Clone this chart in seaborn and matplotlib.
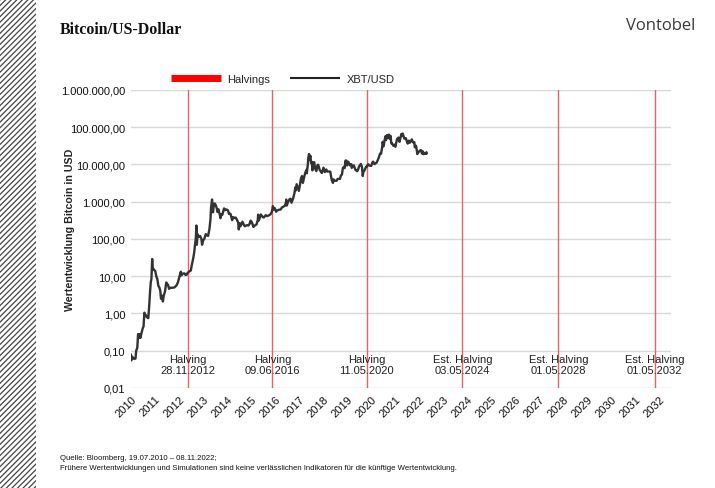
import numpy as np
import pandas as pd
import matplotlib
matplotlib.use("Agg")
import matplotlib.pyplot as plt
import matplotlib.transforms as mtransforms
from matplotlib.lines import Line2D
from matplotlib.patches import Rectangle
from matplotlib.ticker import FuncFormatter
import seaborn as sns

# XBT/USD (approximate)
dates = [
    "2010-07-19", "2010-07-25", "2010-08-05", "2010-08-20", "2010-09-10", "2010-09-28",
    "2010-10-08", "2010-10-25", "2010-11-06", "2010-11-15", "2010-11-28", "2010-12-10",
    "2010-12-28", "2011-01-15", "2011-01-28", "2011-02-10", "2011-02-20", "2011-03-05",
    "2011-03-25", "2011-04-10", "2011-04-25", "2011-05-05", "2011-05-18", "2011-05-28",
    "2011-06-08", "2011-06-15", "2011-06-25", "2011-07-10", "2011-07-25", "2011-08-10",
    "2011-08-25", "2011-09-10", "2011-09-25", "2011-10-10", "2011-10-20", "2011-11-05",
    "2011-11-18", "2011-12-01", "2011-12-20", "2012-01-08", "2012-01-20", "2012-02-05",
    "2012-02-20", "2012-03-10", "2012-04-10", "2012-05-10", "2012-06-10", "2012-07-01",
    "2012-07-20", "2012-08-16", "2012-08-25", "2012-09-15", "2012-10-10", "2012-10-28",
    "2012-11-15", "2012-11-28", "2012-12-20", "2013-01-15", "2013-01-31", "2013-02-20",
    "2013-03-08", "2013-03-20", "2013-04-01", "2013-04-10", "2013-04-16", "2013-04-28",
    "2013-05-15", "2013-06-05", "2013-06-25", "2013-07-05", "2013-07-20", "2013-08-10",
    "2013-08-30", "2013-09-20", "2013-10-05", "2013-10-25", "2013-11-10", "2013-11-19",
    "2013-12-04", "2013-12-18", "2013-12-28", "2014-01-10", "2014-01-25", "2014-02-10",
    "2014-02-25", "2014-03-10", "2014-03-31", "2014-04-10", "2014-04-25", "2014-05-10",
    "2014-06-03", "2014-06-20", "2014-07-10", "2014-08-01", "2014-08-18", "2014-09-10",
    "2014-10-05", "2014-10-20", "2014-11-10", "2014-11-28", "2014-12-20", "2015-01-05",
    "2015-01-14", "2015-01-27", "2015-02-10", "2015-03-10", "2015-03-30", "2015-04-15",
    "2015-05-20", "2015-06-10", "2015-06-30", "2015-07-12", "2015-08-01", "2015-08-25",
    "2015-09-15", "2015-10-10", "2015-10-30", "2015-11-04", "2015-11-12", "2015-11-30",
    "2015-12-15", "2016-01-15", "2016-01-30", "2016-02-28", "2016-03-20", "2016-04-15",
    "2016-05-10", "2016-05-30", "2016-06-16", "2016-06-25", "2016-07-15", "2016-08-02",
    "2016-08-20", "2016-09-15", "2016-10-10", "2016-10-30", "2016-11-20", "2016-12-15",
    "2016-12-31", "2017-01-04", "2017-01-12", "2017-02-01", "2017-02-28", "2017-03-10",
    "2017-03-25", "2017-04-20", "2017-05-10", "2017-05-24", "2017-05-28", "2017-06-11",
    "2017-06-25", "2017-07-15", "2017-07-30", "2017-08-15", "2017-09-01", "2017-09-14",
    "2017-09-30", "2017-10-20", "2017-11-07", "2017-11-12", "2017-11-28", "2017-12-07",
    "2017-12-17", "2017-12-23", "2018-01-06", "2018-01-17", "2018-01-28", "2018-02-06",
    "2018-02-20", "2018-03-05", "2018-03-18", "2018-04-06", "2018-04-24", "2018-05-05",
    "2018-05-28", "2018-06-12", "2018-06-29", "2018-07-24", "2018-08-14", "2018-09-04",
    "2018-09-20", "2018-10-15", "2018-11-04", "2018-11-20", "2018-11-25", "2018-12-15",
    "2018-12-24", "2019-01-10", "2019-02-08", "2019-02-24", "2019-03-31", "2019-04-15",
    "2019-05-01", "2019-05-14", "2019-05-30", "2019-06-10", "2019-06-26", "2019-07-02",
    "2019-07-10", "2019-07-17", "2019-08-06", "2019-08-29", "2019-09-20", "2019-09-26",
    "2019-10-26", "2019-11-22", "2019-12-17", "2019-12-31", "2020-01-15", "2020-02-12",
    "2020-02-28", "2020-03-12", "2020-03-20", "2020-04-05", "2020-04-30", "2020-05-11",
    "2020-06-01", "2020-06-25", "2020-07-20", "2020-08-02", "2020-08-16", "2020-09-05",
    "2020-10-10", "2020-10-25", "2020-11-10", "2020-11-30", "2020-12-15", "2020-12-31",
    "2021-01-08", "2021-01-22", "2021-02-08", "2021-02-21", "2021-02-28", "2021-03-13",
    "2021-03-25", "2021-04-13", "2021-04-25", "2021-05-08", "2021-05-19", "2021-06-01",
    "2021-06-21", "2021-07-05", "2021-07-20", "2021-08-14", "2021-09-06", "2021-09-21",
    "2021-10-20", "2021-10-28", "2021-11-08", "2021-11-26", "2021-12-04", "2021-12-27",
    "2022-01-10", "2022-01-24", "2022-02-10", "2022-02-24", "2022-03-28", "2022-04-11",
    "2022-05-04", "2022-05-11", "2022-05-30", "2022-06-13", "2022-06-18", "2022-07-08",
    "2022-07-30", "2022-08-14", "2022-08-28", "2022-09-12", "2022-09-20", "2022-10-05",
    "2022-10-21", "2022-11-05", "2022-11-08",
]
prices = [
    0.08, 0.055, 0.07, 0.065, 0.06, 0.062,
    0.10, 0.12, 0.28, 0.22, 0.28, 0.22,
    0.30, 0.40, 0.45, 1.05, 0.85, 0.90,
    0.78, 0.75, 1.7, 3.4, 7.0, 8.5,
    29.0, 17.0, 16.0, 14.5, 13.8, 10.0,
    8.5, 5.5, 5.0, 4.0, 2.5, 3.0,
    2.1, 3.0, 3.9, 6.8, 6.3, 5.8,
    4.6, 4.9, 4.9, 5.0, 5.6, 6.7,
    8.8, 13.2, 10.5, 11.8, 11.9, 10.8,
    11.1, 12.3, 13.4, 14.2, 20.4, 29.8,
    44, 70, 104, 230, 70, 135,
    115, 120, 101, 70, 90, 102,
    135, 125, 121, 185, 340, 700,
    1150, 520, 735, 900, 840, 700,
    530, 630, 450, 360, 460, 450,
    660, 595, 620, 590, 470, 475,
    320, 385, 365, 375, 320, 275,
    180, 265, 220, 290, 245, 220,
    235, 230, 260, 310, 280, 210,
    230, 245, 325, 450, 310, 375,
    455, 385, 378, 435, 412, 430,
    460, 530, 760, 620, 665, 540,
    580, 610, 615, 700, 735, 780,
    965, 1140, 790, 990, 1190, 1200,
    940, 1240, 1750, 2450, 2000, 2950,
    2500, 1950, 2750, 4150, 4900, 3200,
    4330, 6000, 7150, 5800, 9900, 16000,
    19100, 13800, 17000, 11000, 11700, 6950,
    11200, 11500, 7900, 6630, 9650, 9800,
    7100, 6550, 5900, 8200, 6250, 7350,
    6450, 6500, 6400, 4500, 3900, 3200,
    4000, 3650, 3650, 4100, 4100, 5100,
    5350, 8000, 8600, 7950, 12800, 10600,
    12500, 9400, 11800, 9500, 10200, 8100,
    9500, 7150, 6600, 7200, 8800, 10350,
    8600, 4900, 6200, 6800, 8650, 8600,
    10150, 9250, 9200, 11100, 11900, 10200,
    11300, 13000, 15300, 19700, 19400, 29000,
    40500, 30800, 46400, 57500, 45100, 61200,
    52000, 63500, 49000, 58800, 36700, 36600,
    31600, 33800, 29800, 47800, 52700, 40600,
    65900, 58000, 67500, 53600, 49200, 50700,
    41800, 36300, 43700, 38300, 47100, 39500,
    39700, 29000, 31700, 22500, 19000, 21600,
    23700, 24300, 19600, 22400, 18900, 20300,
    19200, 21300, 19600,
]

halving_dates = ["2012-11-28", "2016-06-09", "2020-05-11", "2024-05-03", "2028-05-01", "2032-05-01"]
halving_labels = ["Halving\n28.11.2012", "Halving\n09.06.2016", "Halving\n11.05.2020",
                  "Est. Halving\n03.05.2024", "Est. Halving\n01.05.2028", "Est. Halving\n01.05.2032"]
years = list(range(2010, 2033))

df = pd.DataFrame({"date": pd.to_datetime(dates), "price": prices})

sns.set_theme(style="white")
plt.rcParams["font.family"] = ["Liberation Sans", "DejaVu Sans"]
plt.rcParams["hatch.linewidth"] = 0.9

fig = plt.figure(figsize=(7.15, 4.89), dpi=100)
ax = fig.add_axes([0.183, 0.2045, 0.755, 0.6095])

# halving lines
trans = mtransforms.blended_transform_factory(ax.transData, ax.transAxes)
for d, lab in zip(halving_dates, halving_labels):
    ax.axvline(pd.Timestamp(d), color="#f06060", lw=1, zorder=1)
    ax.text(pd.Timestamp(d), 0.079, lab, transform=trans, ha="center", va="center",
            fontsize=8, color="#222222", linespacing=1.05, zorder=3)

sns.lineplot(data=df, x="date", y="price", color="#333333", lw=1.7, ax=ax, zorder=4)

ax.set_yscale("log")
ax.set_ylim(0.01, 1e6)
ax.set_yticks([10.0 ** k for k in range(-2, 7)])
ax.minorticks_off()


def de_fmt(v, pos):
    s = f"{v:,.2f}"
    return s.replace(",", "X").replace(".", ",").replace("X", ".")


ax.yaxis.set_major_formatter(FuncFormatter(de_fmt))
ax.set_xlim(pd.Timestamp("2010-07-19"), pd.Timestamp("2033-01-01"))
ticks = [pd.Timestamp(f"{y}-07-19") for y in years]
ax.set_xticks(ticks)
ax.set_xticklabels([str(y) for y in years], rotation=45, ha="right", va="top",
                   rotation_mode="anchor")
ax.tick_params(axis="both", labelsize=8, colors="#111111", length=0, pad=4)
ax.grid(axis="y", color="#d9d9d9", lw=1)
ax.grid(axis="x", visible=False)
for s in ax.spines.values():
    s.set_visible(False)
ax.set_xlabel("")
ax.set_ylabel("Wertentwicklung Bitcoin in USD", fontsize=7.7, fontweight="bold")
ax.yaxis.set_label_coords(-0.104, 0.534)

handles = [Line2D([], [], color="#ff0000", lw=5, solid_capstyle="butt"),
           Line2D([], [], color="#222222", lw=1.5, solid_capstyle="butt")]
fig.legend(handles, ["Halvings", "XBT/USD"], loc="center left", bbox_to_anchor=(0.225, 0.836),
           ncol=2, frameon=False, fontsize=8, handlelength=4.5, columnspacing=1.8,
           handletextpad=0.6)

# title, logo, footer
fig.text(0.084, 0.939, "Bitcoin/US-Dollar", family=["Liberation Serif", "DejaVu Serif"],
         fontweight="bold", fontsize=11.4, ha="left", va="center", color="#111111")
fig.text(0.972, 0.947, "Vontobel", family=["Open Sans", "DejaVu Sans"], fontsize=12,
         ha="right", va="center", color="#3a3a3a")
fig.text(0.084, 0.052, "Quelle: Bloomberg, 19.07.2010 \u2013 08.11.2022;\n"
         "Frühere Wertentwicklungen und Simulationen sind keine verlässlichen Indikatoren "
         "für die künftige Wertentwicklung.", fontsize=5.6, ha="left", va="center",
         color="#111111", linespacing=1.45)

# hatched strip on the left
fig.patches.append(Rectangle((0, 0), 0.05, 1, transform=fig.transFigure, facecolor="white",
                             edgecolor="#444444", hatch="//////", lw=0, zorder=0))

fig.savefig("out.png", dpi=100)
